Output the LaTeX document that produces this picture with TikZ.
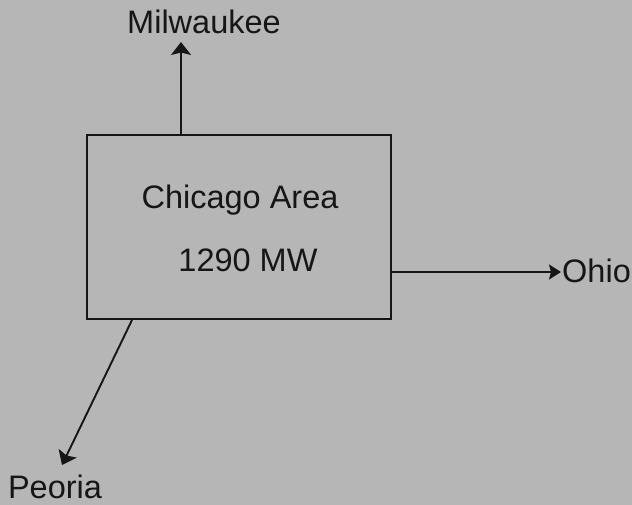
\documentclass[tikz,border=0pt]{standalone}
\usepackage{fontspec}
\setmainfont{Liberation Sans}
\usetikzlibrary{arrows.meta}
\definecolor{bg}{RGB}{182,182,182}
\definecolor{ink}{RGB}{22,22,22}
\begin{document}
\begin{tikzpicture}[x=1pt,y=-1pt,
  lbl/.style={inner sep=0pt, text=ink, font=\fontsize{32.5}{38}\selectfont},
  arr/.style={draw=ink, line width=1.9pt, -{Stealth[length=13pt,width=20pt,inset=2.5pt]}},
  boxst/.style={draw=ink, line width=1.9pt, minimum width=304pt, minimum height=184pt, inner sep=0pt}]
\fill[bg] (0,0) rectangle (632,505);
\useasboundingbox (0,0) rectangle (632,505);
\node[boxst] (box) at (239,227) {};
\node[lbl, anchor=base] (chi) at (240,209) {Chicago Area};
\node[lbl, anchor=base] (mw) at (248,272) {1290 MW};
\node[lbl, anchor=base] (mil) at (204,34) {Milwaukee};
\node[lbl, anchor=base west] (ohio) at (562,282) {Ohio};
\node[lbl, anchor=base] (peo) at (55,498) {Peoria};
\coordinate (mtip) at (181,42);
\coordinate (otip) at (561,272);
\coordinate (ptip) at (62,465);
\draw[arr] (box.north -| mtip) -- (mtip);
\draw[arr, -{Stealth[length=12pt,width=15pt,inset=2pt]}] (box.east |- otip) -- (otip);
\draw[arr] ([xshift=46pt]box.south west) -- (ptip);
\end{tikzpicture}
\end{document}
